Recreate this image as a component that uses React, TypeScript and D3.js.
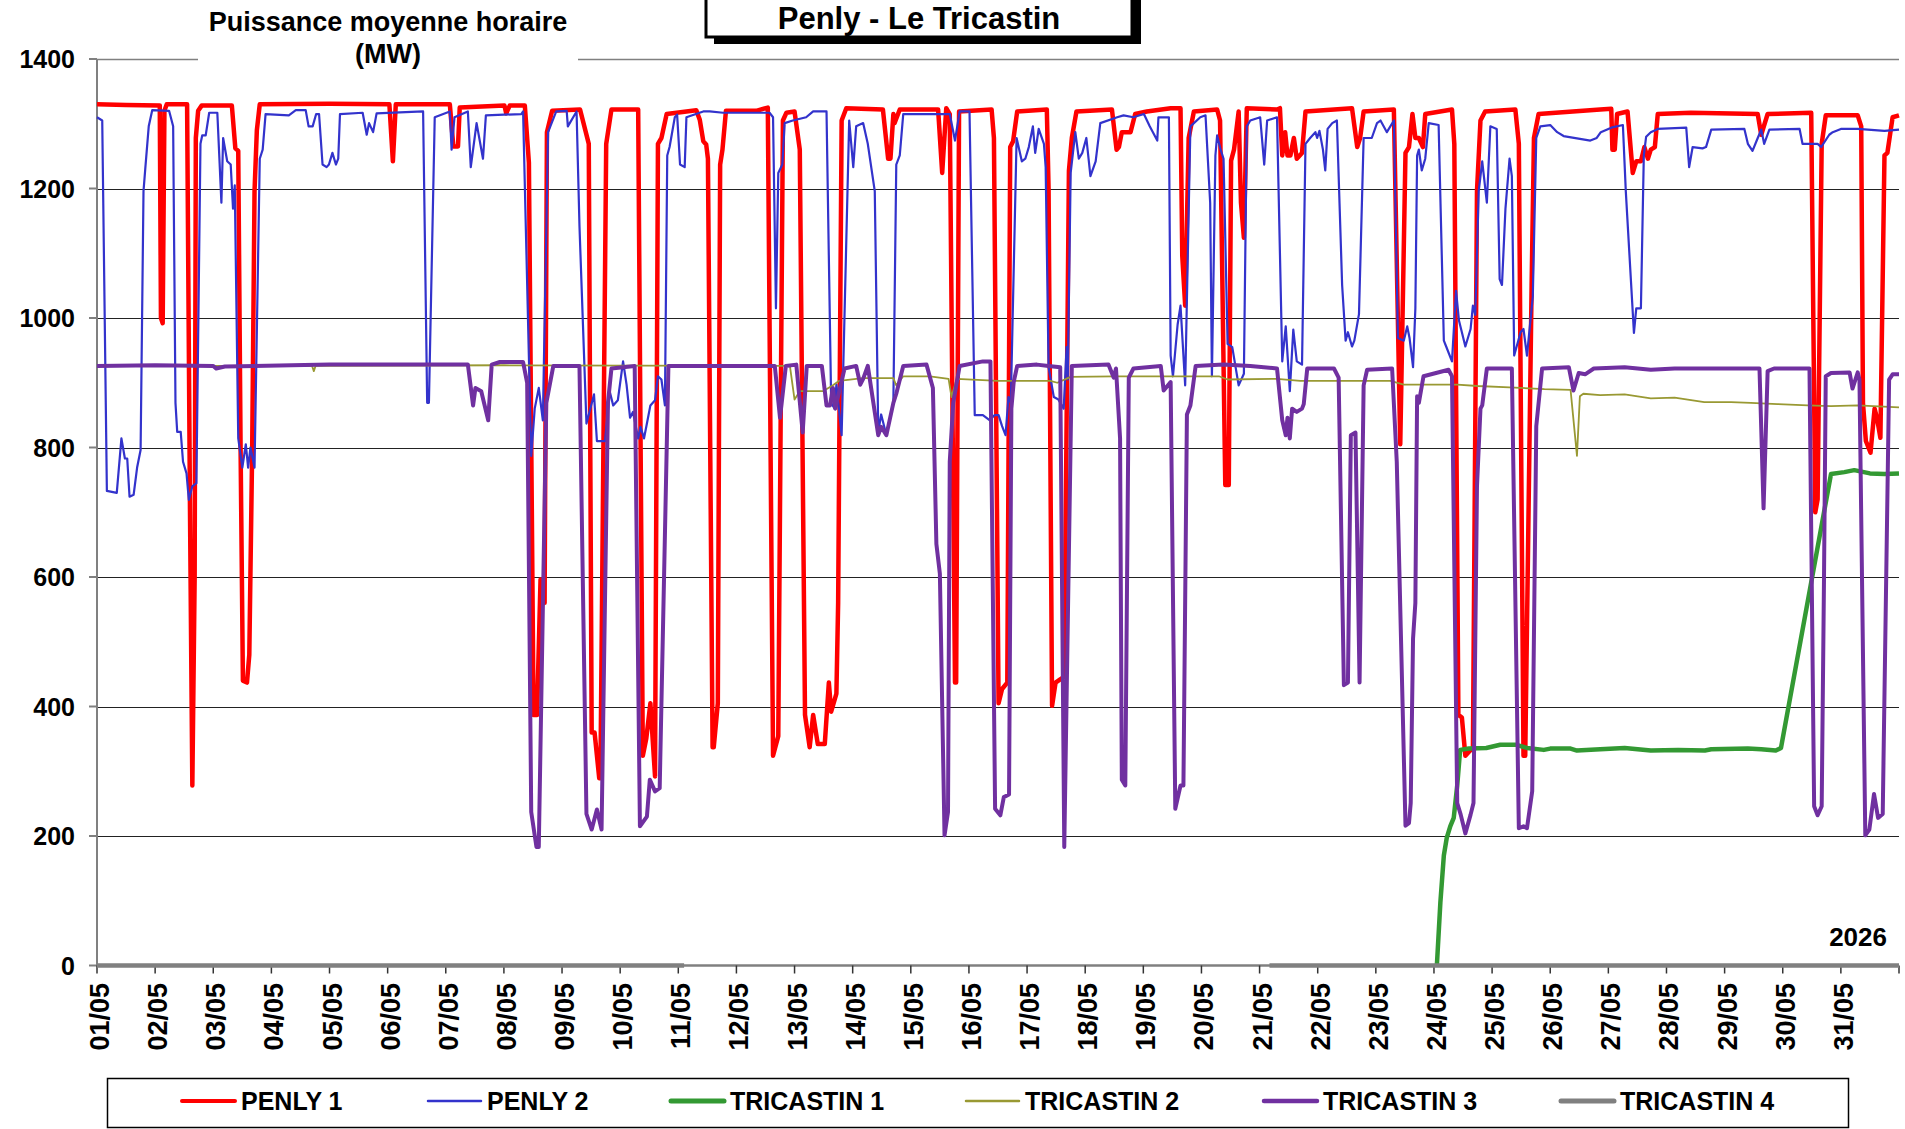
import React from "react";
import * as d3 from "d3";

type Pt = [number, number | null];

const yTicks = [0, 200, 400, 600, 800, 1000, 1200, 1400];
const dayTicks = [1, 2, 3, 4, 5, 6, 7, 8, 9, 10, 11, 12, 13, 14, 15, 16, 17, 18, 19, 20, 21, 22, 23, 24, 25, 26, 27, 28, 29, 30, 31, 32];
const dayLabels = ["01/05", "02/05", "03/05", "04/05", "05/05", "06/05", "07/05", "08/05", "09/05", "10/05", "11/05", "12/05", "13/05", "14/05", "15/05", "16/05", "17/05", "18/05", "19/05", "20/05", "21/05", "22/05", "23/05", "24/05", "25/05", "26/05", "27/05", "28/05", "29/05", "30/05", "31/05"];

const penly1: Pt[] = [[1.00,1330],[1.50,1329],[2.08,1328],[2.10,1000],[2.13,992],[2.16,1320],[2.20,1330],[2.55,1330],[2.60,700],[2.64,278],[2.68,600],[2.70,1278],[2.74,1320],[2.80,1328],[3.32,1328],[3.38,1262],[3.43,1258],[3.47,800],[3.51,440],[3.58,437],[3.62,480],[3.67,800],[3.71,1196],[3.75,1290],[3.80,1330],[5.00,1331],[6.03,1330],[6.09,1242],[6.14,1330],[7.07,1330],[7.13,1265],[7.21,1265],[7.24,1325],[8.01,1328],[8.04,1316],[8.10,1328],[8.36,1328],[8.43,1240],[8.51,387],[8.57,387],[8.63,596],[8.70,560],[8.74,1287],[8.83,1320],[9.31,1322],[9.46,1269],[9.51,360],[9.56,360],[9.64,289],[9.66,289],[9.76,1269],[9.85,1322],[10.31,1322],[10.39,324],[10.45,351],[10.52,405],[10.60,292],[10.65,1269],[10.71,1278],[10.80,1315],[11.31,1321],[11.37,1306],[11.43,1273],[11.48,1268],[11.51,1246],[11.59,337],[11.61,337],[11.68,405],[11.72,1237],[11.76,1260],[11.82,1320],[12.34,1320],[12.54,1325],[12.63,324],[12.72,354],[12.80,1305],[12.86,1317],[13.00,1319],[13.09,1260],[13.18,387],[13.26,337],[13.32,387],[13.40,342],[13.52,342],[13.59,437],[13.63,392],[13.72,420],[13.75,560],[13.81,1305],[13.89,1324],[14.52,1322],[14.61,1246],[14.65,1246],[14.70,1315],[14.72,1301],[14.81,1322],[15.47,1322],[15.54,1224],[15.61,1324],[15.67,1315],[15.76,437],[15.78,437],[15.83,1319],[16.39,1322],[16.43,1278],[16.51,405],[16.57,427],[16.66,437],[16.71,1264],[16.76,1273],[16.83,1319],[17.34,1322],[17.37,1200],[17.43,401],[17.49,437],[17.57,442],[17.64,446],[17.72,1227],[17.77,1278],[17.85,1319],[18.46,1322],[18.54,1260],[18.58,1264],[18.63,1287],[18.78,1287],[18.86,1315],[19.06,1319],[19.47,1324],[19.64,1324],[19.67,1096],[19.72,1019],[19.78,1278],[19.87,1319],[20.27,1322],[20.32,1305],[20.41,742],[20.47,742],[20.51,1243],[20.56,1260],[20.64,1319],[20.68,1178],[20.73,1124],[20.78,1324],[21.30,1322],[21.35,1324],[21.39,1251],[21.44,1287],[21.48,1251],[21.53,1251],[21.59,1278],[21.64,1246],[21.73,1255],[21.79,1319],[22.59,1324],[22.68,1264],[22.73,1278],[22.79,1319],[23.31,1322],[23.42,805],[23.51,1255],[23.57,1264],[23.63,1315],[23.68,1278],[23.74,1278],[23.81,1264],[23.85,1315],[24.31,1322],[24.35,1269],[24.42,387],[24.48,383],[24.54,324],[24.63,333],[24.67,333],[24.74,1196],[24.80,1305],[24.88,1319],[25.40,1322],[25.46,1269],[25.54,324],[25.57,324],[25.68,1051],[25.72,1278],[25.80,1315],[26.86,1322],[27.05,1323],[27.07,1260],[27.11,1260],[27.15,1315],[27.33,1319],[27.42,1224],[27.48,1242],[27.56,1242],[27.62,1264],[27.68,1246],[27.73,1260],[27.80,1264],[27.85,1315],[28.42,1317],[29.57,1315],[29.63,1283],[29.74,1315],[30.49,1317],[30.56,700],[30.60,720],[30.67,1269],[30.74,1313],[31.29,1313],[31.35,1296],[31.38,869],[31.43,810],[31.51,792],[31.58,860],[31.62,846],[31.68,815],[31.75,1251],[31.80,1255],[31.89,1310],[32.00,1313]];

const penly2: Pt[] = [[1.00,1310],[1.09,1305],[1.17,733],[1.34,730],[1.42,814],[1.48,783],[1.52,783],[1.56,724],[1.63,727],[1.69,769],[1.75,796],[1.80,1196],[1.83,1230],[1.89,1296],[1.95,1321],[2.24,1320],[2.31,1296],[2.35,869],[2.38,824],[2.44,824],[2.48,778],[2.54,760],[2.58,719],[2.64,740],[2.71,745],[2.78,1269],[2.81,1282],[2.87,1282],[2.93,1317],[3.07,1317],[3.14,1178],[3.17,1278],[3.24,1242],[3.30,1237],[3.34,1169],[3.37,1205],[3.43,814],[3.50,769],[3.56,805],[3.60,769],[3.64,800],[3.71,769],[3.80,1246],[3.85,1260],[3.90,1315],[4.30,1313],[4.42,1321],[4.59,1321],[4.64,1296],[4.71,1296],[4.77,1315],[4.82,1315],[4.88,1237],[4.95,1233],[4.99,1237],[5.05,1255],[5.11,1237],[5.15,1246],[5.18,1315],[5.57,1317],[5.64,1283],[5.68,1301],[5.75,1287],[5.81,1316],[6.61,1319],[6.68,869],[6.71,869],[6.81,1310],[7.07,1319],[7.10,1260],[7.15,1310],[7.38,1319],[7.43,1233],[7.53,1301],[7.64,1246],[7.69,1313],[8.30,1315],[8.33,1319],[8.47,787],[8.53,860],[8.60,892],[8.67,842],[8.76,1287],[8.90,1319],[9.08,1320],[9.10,1296],[9.25,1319],[9.30,1142],[9.42,837],[9.55,882],[9.60,810],[9.74,810],[9.82,887],[9.88,865],[9.96,873],[10.05,933],[10.11,897],[10.17,846],[10.22,855],[10.31,814],[10.35,832],[10.41,814],[10.46,837],[10.52,865],[10.60,873],[10.65,910],[10.71,905],[10.77,865],[10.81,1251],[10.85,1264],[10.94,1310],[10.98,1314],[11.03,1237],[11.11,1233],[11.14,1310],[11.43,1319],[11.54,1319],[11.77,1317],[12.57,1317],[12.63,1310],[12.68,1015],[12.72,1224],[12.79,1237],[12.83,1301],[12.97,1305],[13.20,1310],[13.32,1319],[13.55,1319],[13.63,869],[13.69,860],[13.72,897],[13.81,819],[13.94,1305],[14.01,1233],[14.06,1296],[14.18,1301],[14.26,1269],[14.38,1196],[14.44,824],[14.49,851],[14.58,819],[14.70,869],[14.75,1237],[14.81,1251],[14.87,1315],[15.67,1315],[15.76,1274],[15.84,1319],[16.01,1319],[16.10,850],[16.24,850],[16.36,842],[16.44,850],[16.51,850],[16.57,833],[16.63,819],[16.68,878],[16.72,869],[16.82,1278],[16.91,1242],[16.97,1246],[17.03,1264],[17.10,1296],[17.14,1255],[17.20,1292],[17.29,1269],[17.32,1233],[17.37,924],[17.46,878],[17.54,874],[17.63,860],[17.68,955],[17.70,905],[17.75,1224],[17.83,1287],[17.89,1246],[17.95,1255],[18.02,1278],[18.09,1219],[18.18,1242],[18.26,1301],[18.55,1310],[18.66,1313],[18.83,1310],[19.01,1315],[19.11,1296],[19.24,1274],[19.26,1310],[19.44,1310],[19.47,942],[19.51,910],[19.59,990],[19.64,1019],[19.72,896],[19.81,1296],[19.98,1310],[20.07,1313],[20.15,1178],[20.18,910],[20.24,1251],[20.27,1282],[20.33,1260],[20.38,1246],[20.45,960],[20.53,955],[20.58,928],[20.64,896],[20.73,914],[20.78,1296],[20.84,1305],[21.01,1310],[21.08,1237],[21.13,1305],[21.30,1310],[21.39,933],[21.45,987],[21.52,887],[21.58,982],[21.64,933],[21.73,928],[21.79,1269],[21.87,1278],[21.96,1287],[21.99,1278],[22.03,1289],[22.09,1260],[22.13,1228],[22.17,1292],[22.25,1301],[22.33,1305],[22.42,1051],[22.48,965],[22.52,978],[22.59,956],[22.63,965],[22.71,1006],[22.79,1278],[22.93,1278],[23.02,1301],[23.08,1305],[23.19,1287],[23.31,1305],[23.38,969],[23.48,965],[23.54,987],[23.58,969],[23.64,924],[23.68,1015],[23.71,1251],[23.74,1260],[23.79,1228],[23.85,1246],[23.91,1301],[24.08,1298],[24.17,965],[24.21,956],[24.31,933],[24.38,1042],[24.43,996],[24.48,978],[24.54,956],[24.63,983],[24.67,1019],[24.71,1005],[24.77,1196],[24.83,1242],[24.91,1178],[24.97,1296],[25.08,1292],[25.13,1060],[25.17,1051],[25.23,1169],[25.30,1246],[25.34,1219],[25.38,942],[25.49,978],[25.54,983],[25.60,942],[25.70,1033],[25.76,1278],[25.83,1296],[26.00,1298],[26.12,1287],[26.23,1281],[26.69,1274],[26.80,1278],[26.87,1287],[27.05,1294],[27.25,1298],[27.30,1196],[27.44,977],[27.48,1015],[27.56,1015],[27.61,1251],[27.65,1280],[27.73,1287],[27.85,1292],[28.34,1294],[28.39,1233],[28.45,1264],[28.62,1262],[28.68,1264],[28.77,1291],[29.34,1292],[29.40,1269],[29.48,1258],[29.57,1278],[29.63,1291],[29.68,1269],[29.77,1291],[30.29,1292],[30.34,1269],[30.60,1269],[30.66,1264],[30.80,1283],[30.86,1287],[31.00,1292],[31.29,1292],[31.75,1289],[32.00,1291]];

const tricastin1: Pt[] = [[24.05,0],[24.11,97],[24.17,170],[24.22,197],[24.28,215],[24.34,228],[24.40,278],[24.45,333],[24.60,335],[24.90,336],[25.14,341],[25.40,341],[25.60,336],[25.89,333],[26.00,335],[26.35,335],[26.46,332],[26.86,334],[27.28,336],[27.73,332],[28.20,333],[28.66,332],[28.77,334],[29.40,335],[29.63,334],[29.88,332],[29.97,336],[30.83,759],[31.06,762],[31.23,765],[31.50,760],[31.75,759],[32.00,760]];

const tricastin2: Pt[] = [[1.00,926],[4.70,926],[4.73,918],[4.76,926],[8.00,927],[12.92,926],[13.00,874],[13.09,887],[13.49,887],[13.66,896],[13.77,903],[14.17,907],[14.70,907],[14.75,896],[14.87,910],[15.33,910],[15.65,906],[15.70,878],[15.79,906],[16.50,903],[17.40,903],[17.52,900],[17.75,909],[18.50,910],[20.30,910],[20.45,905],[21.30,906],[21.70,903],[23.25,903],[23.48,897],[24.40,897],[24.75,895],[25.30,893],[25.90,890],[26.35,889],[26.46,787],[26.51,879],[26.57,883],[26.86,881],[27.28,882],[27.73,876],[28.14,877],[28.65,870],[29.11,870],[29.45,869],[29.91,867],[30.43,865],[30.83,864],[31.29,865],[32.00,862]];

const tricastin3: Pt[] = [[1.00,926],[2.00,927],[3.00,926],[3.05,922],[3.20,925],[5.00,928],[7.38,928],[7.47,865],[7.51,892],[7.61,887],[7.73,842],[7.79,928],[7.93,932],[8.33,932],[8.40,900],[8.47,237],[8.56,183],[8.60,183],[8.73,869],[8.85,926],[9.30,926],[9.42,234],[9.51,210],[9.60,241],[9.68,210],[9.79,869],[9.85,922],[10.25,926],[10.34,215],[10.46,230],[10.51,287],[10.60,269],[10.68,274],[10.83,926],[12.66,926],[12.75,846],[12.85,926],[13.03,928],[13.14,823],[13.21,926],[13.47,926],[13.55,865],[13.61,865],[13.66,892],[13.70,860],[13.86,922],[14.06,926],[14.13,897],[14.18,906],[14.26,926],[14.44,819],[14.49,832],[14.58,819],[14.70,869],[14.75,883],[14.87,926],[15.27,928],[15.38,892],[15.44,651],[15.50,605],[15.58,201],[15.64,237],[15.67,778],[15.73,869],[15.84,926],[16.24,933],[16.37,933],[16.45,242],[16.54,232],[16.60,260],[16.69,264],[16.73,860],[16.77,901],[16.83,926],[17.17,928],[17.37,926],[17.57,924],[17.64,183],[17.77,926],[18.40,928],[18.49,908],[18.53,922],[18.60,814],[18.63,287],[18.69,278],[18.75,908],[18.83,922],[19.30,926],[19.35,888],[19.47,901],[19.55,242],[19.64,278],[19.69,278],[19.75,851],[19.81,865],[19.90,926],[20.38,928],[20.84,926],[21.30,922],[21.39,842],[21.45,819],[21.48,846],[21.52,814],[21.56,860],[21.64,855],[21.73,860],[21.76,867],[21.82,922],[22.28,922],[22.36,908],[22.45,433],[22.52,437],[22.57,819],[22.65,823],[22.72,437],[22.79,896],[22.85,920],[23.28,922],[23.36,778],[23.51,216],[23.57,220],[23.60,251],[23.64,505],[23.68,560],[23.71,879],[23.74,869],[23.82,910],[24.25,920],[24.31,910],[24.40,251],[24.46,233],[24.54,204],[24.63,233],[24.68,251],[24.74,740],[24.80,860],[24.83,865],[24.91,922],[25.34,922],[25.46,212],[25.54,215],[25.60,212],[25.69,269],[25.76,833],[25.86,922],[26.32,924],[26.40,888],[26.49,915],[26.60,913],[26.75,922],[27.28,924],[27.73,920],[28.14,922],[29.60,922],[29.67,706],[29.74,918],[29.85,922],[30.46,922],[30.54,246],[30.60,232],[30.67,246],[30.71,600],[30.74,910],[30.83,915],[31.15,916],[31.20,891],[31.29,916],[31.32,905],[31.42,201],[31.49,210],[31.57,265],[31.64,228],[31.72,234],[31.78,600],[31.83,905],[31.89,913],[32.00,913]];

const tricastin4: Pt[] = [[1.00,0],[11.10,0],[11.11,null],[21.16,null],[21.17,0],[32.00,0]];

const seriesNames = ["PENLY 1", "PENLY 2", "TRICASTIN 1", "TRICASTIN 2", "TRICASTIN 3", "TRICASTIN 4"];
const seriesData = [penly1, penly2, tricastin1, tricastin2, tricastin3, tricastin4];
const seriesColors = ["#FF0000", "#3333CC", "#339933", "#999933", "#7030A0", "#808080"];
const seriesWidths = [4.5, 2.2, 4.5, 1.8, 4, 4.5];
const legendLineWidths = [4, 2.5, 5, 2.5, 4.5, 5];
const legendX = [182, 428, 671, 966, 1264, 1561];

const FONT = '"Liberation Sans", Arial, Helvetica, sans-serif';

export default function App() {
  const W = 1905;
  const H = 1129;
  const x = d3.scaleLinear().domain([1, 32]).range([97, 1899]);
  const y = d3.scaleLinear().domain([0, 1400]).range([965.5, 59]);
  const line = d3
    .line<Pt>()
    .defined((d) => d[1] !== null)
    .x((d) => x(d[0]))
    .y((d) => y(d[1] as number));

  return (
    <svg
      width={W}
      height={H}
      viewBox={`0 0 ${W} ${H}`}
      style={{ position: "absolute", left: 0, top: 0, display: "block", background: "#fff" }}
      fontFamily={FONT}
    >
      <rect x={0} y={0} width={W} height={H} fill="#fff" />
      {yTicks.filter((v) => v > 0).map((v) => (
        <line
          key={"g" + v}
          x1={x(1)}
          x2={x(32)}
          y1={Math.round(y(v)) + 0.5}
          y2={Math.round(y(v)) + 0.5}
          stroke={v === 1400 ? "#808080" : "#222"}
          strokeWidth={v === 1400 ? 1.6 : 1}
        />
      ))}
      <rect x={198} y={0} width={380} height={72} fill="#fff" />
      <text x={388} y={31} textAnchor="middle" fontWeight="bold" fontSize={27} fill="#000">
        Puissance moyenne horaire
      </text>
      <text x={388} y={63} textAnchor="middle" fontWeight="bold" fontSize={27} fill="#000">
        (MW)
      </text>
      <rect x={714} y={-5} width={427} height={49} fill="#000" />
      <rect x={706} y={-8} width={426} height={45} fill="#fff" stroke="#000" strokeWidth={3} />
      <text x={919} y={29} textAnchor="middle" fontWeight="bold" fontSize={31} fill="#000">
        Penly - Le Tricastin
      </text>
      <line x1={x(1)} x2={x(1)} y1={59} y2={y(0)} stroke="#808080" strokeWidth={2} />
      {yTicks.map((v) => (
        <line key={"yt" + v} x1={89} x2={x(1)} y1={y(v)} y2={y(v)} stroke="#808080" strokeWidth={2} />
      ))}
      <line x1={x(1)} x2={x(32)} y1={y(0)} y2={y(0)} stroke="#808080" strokeWidth={2.5} />
      {dayTicks.map((d) => (
        <line key={"xt" + d} x1={x(d)} x2={x(d)} y1={y(0)} y2={y(0) + 8} stroke="#333" strokeWidth={1.5} />
      ))}
      {seriesData.map((s, i) => (
        <path
          key={seriesNames[i]}
          d={line(s) || ""}
          fill="none"
          stroke={seriesColors[i]}
          strokeWidth={seriesWidths[i]}
          strokeLinejoin="round"
          strokeLinecap="butt"
        />
      ))}
      {yTicks.map((v) => (
        <text key={"yl" + v} x={75} y={y(v)} dy="0.36em" textAnchor="end" fontWeight="bold" fontSize={25} fill="#000">
          {v}
        </text>
      ))}
      {dayLabels.map((lab, i) => (
        <text
          key={lab}
          transform={`translate(${x(dayTicks[i]) + 12},${983}) rotate(-90)`}
          textAnchor="end"
          fontWeight="bold"
          fontSize={27}
          fill="#000"
        >
          {lab}
        </text>
      ))}
      <text x={1887} y={946} textAnchor="end" fontWeight="bold" fontSize={26} fill="#000">
        2026
      </text>
      <rect x={107.5} y={1078.5} width={1741} height={49} fill="#fff" stroke="#000" strokeWidth={1.5} />
      {seriesNames.map((n, i) => (
        <g key={"lg" + n}>
          <line
            x1={legendX[i]}
            x2={legendX[i] + 53}
            y1={1101}
            y2={1101}
            stroke={seriesColors[i]}
            strokeWidth={legendLineWidths[i]}
            strokeLinecap="round"
          />
          <text x={legendX[i] + 59} y={1110} fontWeight="bold" fontSize={25} fill="#000">
            {n}
          </text>
        </g>
      ))}
    </svg>
  );
}
